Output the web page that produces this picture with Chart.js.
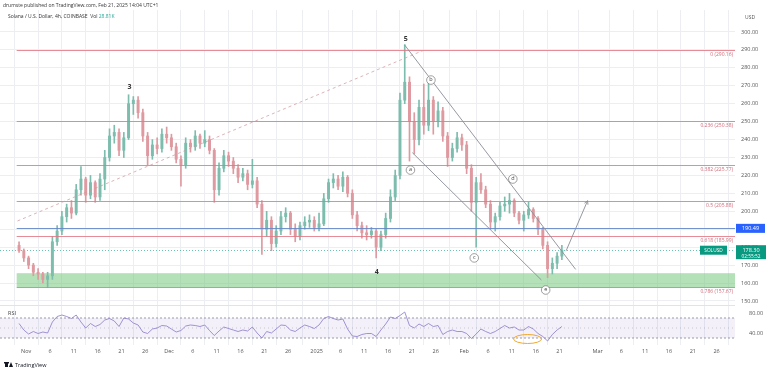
<!DOCTYPE html>
<html>
<head>
<meta charset="utf-8">
<script src="https://cdn.jsdelivr.net/npm/chart.js@4.4.1/dist/chart.umd.min.js"></script>
<style>
  html, body { margin: 0; padding: 0; background: #fff; }
  #wrap { width: 768px; height: 373px; position: relative; }
</style>
</head>
<body>
<div id="wrap"><canvas id="chart"></canvas></div>
<script>
// day 0 = Nov 1 2024, one candle per day starting Oct 30
const firstDay = -2;

const opens = [181,178,174,170,166,165,162,164,183,189,197,202,199,212,218,209,216,208,218,230,
  242,244,234,241,260,262,255,242,231,237,235,243,241,236,229,226,238,236,242,238,
  240,234,212,224,231,228,224,219,221,215,217,204,190,195,182,189,197,199,190,186,
  192,194,195,191,193,207,216,218,214,219,210,198,192,188,187,189,180,187,196,208,
  220,262,272,250,240,258,248,262,250,256,242,230,235,241,237,224,205,216,212,204,
  194,197,203,204,206,199,195,198,201,196,190,181,168,171,175];
const highs = [183,179,175,171,168,166,166,186,192,200,204,206,215,225,219,220,217,221,234,246,
  248,246,244,265,264,264,257,244,240,241,246,247,243,238,231,241,240,245,243,245,
  242,235,227,234,233,230,226,224,223,229,219,206,200,197,192,200,202,200,193,194,
  197,198,197,199,210,218,221,220,222,220,212,200,194,192,191,190,189,199,212,223,
  266,293,275,255,262,271,272,264,261,258,244,238,244,243,239,226,219,221,214,206,
  199,205,208,210,207,200,200,205,202,197,191,183,174,177,181];
const lows = [177,172,168,164,162,160,157.5,162,181,187,194,196,198,209,205,207,205,206,212,228,
  238,231,230,240,254,252,239,226,229,232,233,238,234,227,214,224,233,234,235,236,
  232,205,209,222,225,221,216,217,212,213,202,176,186,178,180,187,194,187,183,184,
  190,191,189,189,192,205,213,212,211,208,196,189,185,184,185,174,178,185,194,206,
  218,260,228,232,237,243,245,243,247,239,225,228,233,234,221,200,180,210,202,190,
  189,195,200,199,197,193,189,196,194,187,179,163,165,168,173];
const closes = [178,174,170,166,165,162,164,183,189,197,202,199,212,218,209,216,208,218,230,242,
  244,234,241,260,262,255,242,231,237,235,243,241,236,229,226,238,236,242,238,240,
  234,212,224,231,228,224,219,221,215,217,204,190,195,182,189,197,199,190,186,192,
  194,195,191,193,207,216,218,214,219,210,198,192,188,187,189,180,187,196,208,220,
  262,272,250,240,258,248,262,250,256,242,230,235,241,237,224,205,216,212,204,194,
  197,203,204,206,199,195,198,201,196,190,181,168,171,175,178.3];

const rsi = [59,46,38,43,39,42,40,62,73,76,73,69,76,62,50,59,53,57,66,69,
  64,53,70,68,60,56,42,39,48,50,55,54,48,42,45,54,56,55,53,56,
  45,35,44,52,49,46,43,46,44,52,40,30,43,40,48,56,55,46,43,50,
  56,53,49,56,69,73,69,66,68,48,34,33,37,39,39,33,46,58,72,69,
  75,82,55,50,58,53,59,53,55,37,43,46,43,43,39,29,38,48,43,39,
  43,49,55,50,52,46,46,53,48,39,33,24,37,46,53];

const tickDays = [0,5,10,15,20,25,30,35,40,45,50,55,61,66,71,76,81,86,92,97,102,107,112,120,125,130,135,140,145];
const tickLabels = ['Nov','6','11','16','21','26','Dec','6','11','16','21','26','2025','6','11','16','21','26','Feb','6','11','16','21','Mar','6','11','16','21','26'];
const priceTicks = [150,160,170,180,190,200,210,220,230,240,250,260,270,280,290,300];
const rsiTicks = [40, 80];

const fibLevels = [290.16, 250.38, 225.77, 205.88, 185.99, 157.67];
const fibNames = ['0', '0.236', '0.382', '0.5', '0.618', '0.786'];
const zoneLow = 157.67, zoneHigh = 165.5;
const bluePrice = 190.49;
const lastPrice = 178.30;

const upColor = '#7dbdae';
const downColor = '#de9aa0';
const FONT = 'Open Sans';

function candleColor(ctx) {
  const i = ctx.dataIndex;
  return closes[i] >= opens[i] ? upColor : downColor;
}

const wickData = lows.map((l, i) => ({ x: firstDay + i + 0.5, y: [l, highs[i]] }));
const bodyData = opens.map((o, i) => ({ x: firstDay + i + 0.5, y: [o, closes[i]] }));
const rsiData = rsi.map((v, i) => ({ x: firstDay + i + 0.5, y: v }));

function text(c, s, x, y, size, color, align, weight) {
  c.font = (weight || 'normal') + ' ' + size + 'px "' + FONT + '"';
  c.fillStyle = color;
  c.textAlign = align || 'left';
  c.textBaseline = 'middle';
  c.fillText(s, x, y);
}

function hline(c, x0, x1, py, color) {
  c.fillStyle = color;
  c.fillRect(x0, Math.round(py), x1 - x0, 1);
}

const drawings = {
  id: 'drawings',
  beforeDatasetsDraw(chart) {
    const c = chart.ctx, a = chart.chartArea;
    const x = chart.scales.x, y = chart.scales.y, r = chart.scales.yRsi;
    c.save();
    const x0 = x.getPixelForValue(firstDay);
    // support zone
    c.fillStyle = 'rgba(120,200,125,0.55)';
    c.fillRect(x0, y.getPixelForValue(zoneHigh), a.right - x0, y.getPixelForValue(zoneLow) - y.getPixelForValue(zoneHigh));
    // last price line
    c.strokeStyle = 'rgba(8,153,129,0.6)';
    c.lineWidth = 1;
    c.setLineDash([1, 2]);
    const ly = Math.round(y.getPixelForValue(lastPrice)) + 0.5;
    c.beginPath(); c.moveTo(a.left, ly); c.lineTo(a.right, ly); c.stroke();
    c.setLineDash([]);
    // pane separator
    hline(c, a.left, a.right, r.top, '#e0e3eb');
    // RSI band
    const r70 = r.getPixelForValue(70), r30 = r.getPixelForValue(30), r50 = r.getPixelForValue(50);
    c.fillStyle = 'rgba(126,87,194,0.09)';
    c.fillRect(a.left, r70, a.right - a.left, r30 - r70);
    c.strokeStyle = '#9a9aa8';
    c.setLineDash([2, 2]);
    [r70, r30].forEach(py => { c.beginPath(); c.moveTo(a.left, py); c.lineTo(a.right, py); c.stroke(); });
    c.strokeStyle = 'rgba(120,123,134,0.35)';
    c.setLineDash([1, 3]);
    c.beginPath(); c.moveTo(a.left, r50); c.lineTo(a.right, r50); c.stroke();
    c.restore();
  },
  afterDatasetsDraw(chart) {
    const c = chart.ctx, a = chart.chartArea;
    const x = chart.scales.x, y = chart.scales.y, r = chart.scales.yRsi;
    const P = (d, p) => [x.getPixelForValue(d), y.getPixelForValue(p)];
    c.save();
    const x0 = x.getPixelForValue(firstDay);
    // fib levels and the blue level, drawn over the candles
    fibLevels.forEach(p => hline(c, x0, a.right, y.getPixelForValue(p), 'rgba(226,120,132,0.85)'));
    hline(c, x0, a.right, y.getPixelForValue(bluePrice), 'rgba(100,135,200,0.9)');
    // dashed trend line
    c.strokeStyle = 'rgba(205,150,155,0.9)';
    c.lineWidth = 0.8;
    c.setLineDash([3, 3]);
    let s = P(-1.83, 194.6), e = P(84.0, 290.4);
    c.beginPath(); c.moveTo(s[0], s[1]); c.lineTo(e[0], e[1]); c.stroke();
    c.setLineDash([]);
    // channel
    c.strokeStyle = '#8a8d96';
    c.lineWidth = 0.9;
    s = P(79.5, 292.7); e = P(115.4, 167.6);
    c.beginPath(); c.moveTo(s[0], s[1]); c.lineTo(e[0], e[1]); c.stroke();
    s = P(81.1, 232.7); e = P(108.2, 161.7);
    c.beginPath(); c.moveTo(s[0], s[1]); c.lineTo(e[0], e[1]); c.stroke();
    // projection arrow
    s = P(113.4, 178.0); e = P(117.9, 205.9);
    c.beginPath(); c.moveTo(s[0], s[1]); c.lineTo(e[0], e[1]); c.stroke();
    const ang = Math.atan2(e[1] - s[1], e[0] - s[0]);
    c.beginPath();
    c.moveTo(e[0] - 4 * Math.cos(ang - 0.5), e[1] - 4 * Math.sin(ang - 0.5));
    c.lineTo(e[0], e[1]);
    c.lineTo(e[0] - 4 * Math.cos(ang + 0.5), e[1] - 4 * Math.sin(ang + 0.5));
    c.stroke();
    // impulse wave labels
    [['3', 21.7, 269.3], ['5', 79.7, 296.1], ['4', 73.6, 166.1]].forEach(w => {
      const q = P(w[1], w[2]);
      text(c, w[0], q[0], q[1], 7, '#333', 'center', 'bold');
    });
    // corrective wave circles
    [['a', 80.7, 223.0], ['b', 85.0, 273.2], ['c', 94.1, 174.0], ['d', 102.2, 218.0], ['e', 109.1, 156.1]].forEach(w => {
      const q = P(w[1], w[2]);
      c.beginPath();
      c.arc(q[0], q[1], 4.3, 0, Math.PI * 2);
      c.fillStyle = '#fff'; c.fill();
      c.strokeStyle = '#777'; c.lineWidth = 0.7; c.stroke();
      text(c, w[0], q[0], q[1] - 0.5, 5.5, '#444', 'center');
    });
    // fib labels
    fibLevels.forEach((p, i) => {
      text(c, fibNames[i] + ' (' + p.toFixed(2) + ')', a.right - 2, y.getPixelForValue(p) + 4.5, 5, '#d06a78', 'right');
    });
    // ellipse on RSI low
    c.strokeStyle = '#f0a830';
    c.lineWidth = 1;
    c.beginPath();
    c.ellipse(x.getPixelForValue(105.3), r.getPixelForValue(28), 14, 4.5, 0, 0, Math.PI * 2);
    c.stroke();
    c.restore();
  },
  afterDraw(chart) {
    const c = chart.ctx, y = chart.scales.y;
    c.save();
    text(c, 'drumste published on TradingView.com, Feb 21, 2025 14:04 UTC+1', 3, 6, 5, '#333');
    c.font = 'normal 5px "' + FONT + '"';
    const head = 'Solana / U.S. Dollar, 4h, COINBASE  Vol ';
    text(c, head, 8, 17, 5, '#333');
    text(c, '28.81K', 8 + c.measureText(head).width, 17, 5, '#26a69a');
    text(c, 'USD', 745, 18, 5, '#555');
    text(c, 'RSI', 8, 313, 5.5, '#444');
    // blue level tag
    const by = y.getPixelForValue(bluePrice);
    c.fillStyle = '#2962ff';
    c.fillRect(736, by - 4.5, 29, 9);
    text(c, '190.49', 750.5, by, 5.5, '#fff', 'center');
    // last price tags
    const ly = y.getPixelForValue(lastPrice);
    c.fillStyle = '#089981';
    c.fillRect(700, ly - 4.5, 27, 9);
    text(c, 'SOLUSD', 713.5, ly, 4.8, '#fff', 'center');
    c.fillStyle = '#089981';
    c.fillRect(736, ly - 5, 30, 14);
    text(c, '178.30', 751, ly, 5.5, '#fff', 'center');
    text(c, '02:55:52', 751, ly + 6, 4.8, '#fff', 'center');
    // logo
    c.fillStyle = '#131722';
    c.fillRect(5, 363, 3, 4);
    c.fillRect(4, 362, 5, 1.5);
    c.beginPath(); c.moveTo(9, 367); c.lineTo(11, 362); c.lineTo(13, 367); c.fill();
    text(c, 'TradingView', 15, 365, 5.5, '#131722');
    c.restore();
  }
};

const axisFont = { family: FONT, size: 5.5 };

new Chart(document.getElementById('chart'), {
  type: 'bar',
  data: {
    datasets: [
      { data: wickData, xAxisID: 'x', yAxisID: 'y', barThickness: 1, grouped: false,
        backgroundColor: candleColor, borderWidth: 0, order: 2 },
      { data: bodyData, xAxisID: 'x', yAxisID: 'y', barThickness: 2.3, grouped: false,
        backgroundColor: candleColor, borderWidth: 0, minBarLength: 0.6, order: 1 },
      { type: 'line', data: rsiData, xAxisID: 'x', yAxisID: 'yRsi', borderColor: '#8c78c9',
        borderWidth: 0.8, pointRadius: 0, tension: 0, order: 0 }
    ]
  },
  options: {
    responsive: true,
    maintainAspectRatio: false,
    animation: false,
    events: [],
    layout: { padding: { top: 10, bottom: 14, left: 0, right: 0 } },
    plugins: { legend: { display: false }, tooltip: { enabled: false } },
    scales: {
      x: {
        type: 'linear', position: 'bottom', min: -2.84, max: 146.2,
        afterBuildTicks: s => { s.ticks = tickDays.map(v => ({ value: v })); },
        afterFit: s => { s.height = 14; },
        ticks: { callback: v => tickLabels[tickDays.indexOf(v)], font: axisFont, color: '#555',
          maxRotation: 0, autoSkip: false, padding: 3 },
        grid: { color: '#eceef2', drawTicks: false },
        border: { display: false }
      },
      y: {
        type: 'linear', position: 'right', stack: 'pane', stackWeight: 295,
        min: 147.74, max: 312.27,
        afterBuildTicks: s => { s.ticks = priceTicks.map(v => ({ value: v })); },
        afterFit: s => { s.width = 33; },
        ticks: { callback: v => v.toFixed(2), font: axisFont, color: '#555', padding: 6 },
        grid: { color: '#eceef2', drawTicks: false },
        border: { display: false }
      },
      yRsi: {
        type: 'linear', position: 'right', stack: 'pane', stackWeight: 40,
        min: 16, max: 96,
        afterBuildTicks: s => { s.ticks = rsiTicks.map(v => ({ value: v })); },
        afterFit: s => { s.width = 33; },
        ticks: { callback: v => v.toFixed(2), font: axisFont, color: '#555', padding: 6 },
        grid: { display: false },
        border: { display: false }
      }
    }
  },
  plugins: [drawings]
});
</script>
</body>
</html>
